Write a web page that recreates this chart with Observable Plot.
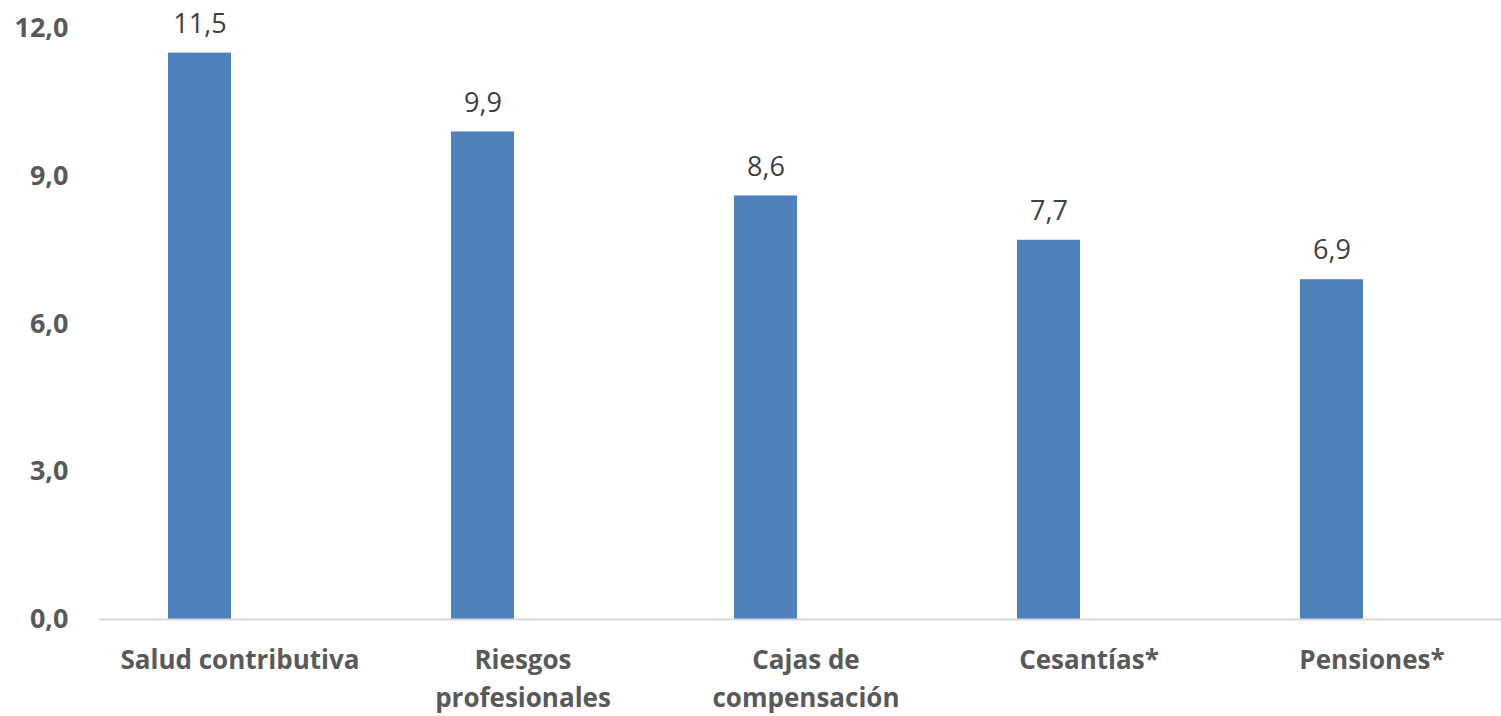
<!DOCTYPE html>
<html>
<head>
<meta charset="utf-8">
<script src="https://cdn.jsdelivr.net/npm/d3@7"></script>
<script src="https://cdn.jsdelivr.net/npm/@observablehq/plot@0.6"></script>
<style>
  html, body { margin: 0; padding: 0; background: #fff; }
  #chart svg { display: block; }
</style>
</head>
<body>
<div id="chart"></div>
<script>
const categories = ["Salud contributiva", "Riesgos profesionales", "Cajas de compensación", "Cesantías*", "Pensiones*"];
const tickLabels = ["Salud contributiva", "Riesgos\nprofesionales", "Cajas de\ncompensación", "Cesantías*", "Pensiones*"];
const values = [11.5, 9.9, 8.6, 7.7, 6.9];
const yTicks = [0, 3, 6, 9, 12];

const data = categories.map((c, i) => ({category: c, value: values[i]}));
const comma1 = v => d3.format(".1f")(v).replace(".", ",");

const chart = Plot.plot({
  width: 1501,
  height: 716,
  marginLeft: 99,
  marginRight: 0,
  marginTop: 28,
  marginBottom: 97,
  style: {fontFamily: "'Open Sans', sans-serif", background: "#fff"},
  x: {domain: categories, range: [58, 1473], paddingInner: 0.777, paddingOuter: 0.3885, align: 0.5},
  y: {domain: [0, 12], ticks: yTicks},
  marks: [
    Plot.barY(data, {x: "category", y: "value", fill: "#4f81bd"}),
    Plot.ruleY([0], {stroke: "#d9d9d9", strokeWidth: 2}),
    Plot.text(data, {x: "category", y: "value", text: d => comma1(d.value), dy: -29, fontSize: 27, fill: "#404040"}),
    Plot.axisY({ticks: yTicks, tickFormat: comma1, tickSize: 0, tickPadding: 31, fontSize: 27, fontWeight: "bold", fill: "#595959", label: null}),
    Plot.axisX({tickSize: 0, tickPadding: 23, dx: 40, fontSize: 26, fontWeight: "bold", fill: "#595959", lineHeight: 1.46, lineAnchor: "top",
      tickFormat: c => tickLabels[categories.indexOf(c)], label: null})
  ]
});
document.getElementById("chart").appendChild(chart);
</script>
</body>
</html>
